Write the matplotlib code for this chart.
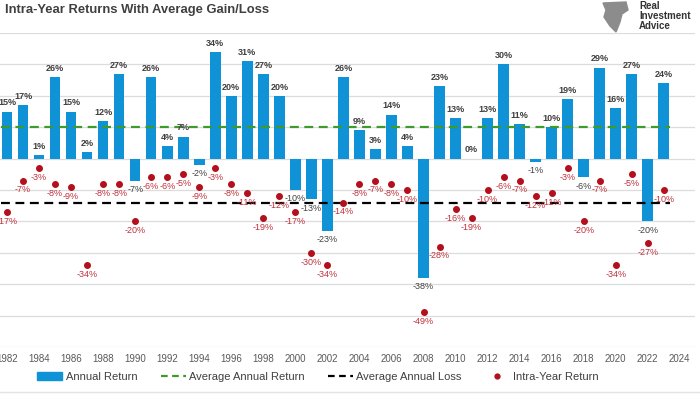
import numpy as np
import matplotlib.pyplot as plt
from matplotlib.lines import Line2D
from matplotlib.patches import Patch, Polygon

plt.rcParams['font.family'] = ['Liberation Sans', 'DejaVu Sans']

# Datos
years = np.arange(1982, 2024)
annual = [15, 17, 1, 26, 15, 2, 12, 27, -7, 26, 4, 7, -2, 34, 20, 31, 27, 20,
          -10, -13, -23, 26, 9, 3, 14, 4, -38, 23, 13, 0, 13, 30, 11, -1, 10,
          19, -6, 29, 16, 27, -20, 24]
intra = [-17, -7, -3, -8, -9, -34, -8, -8, -20, -6, -6, -5, -9, -3, -8, -11,
         -19, -12, -17, -30, -34, -14, -8, -7, -8, -10, -49, -28, -16, -19,
         -10, -6, -7, -12, -11, -3, -20, -7, -34, -5, -27, -10]
avg_gain = 10
avg_loss = -14
tick_years = np.arange(1982, 2025, 2)

blue = '#0f93d6'
red = '#b3101e'
red_txt = '#c0303a'
green = '#3f9a2c'

fig = plt.figure(figsize=(7, 3.94), dpi=100)
ax = fig.add_axes([0, 47 / 394, 695 / 700, 314 / 394])

ax.bar(years, annual, width=0.66, color=blue, zorder=2)
ax.plot([years[0] - 0.4, years[-1] + 0.4], [avg_gain, avg_gain], color=green,
        lw=1.6, dashes=(4, 2.5), zorder=3)
ax.plot([years[0] - 0.4, years[-1] + 0.4], [avg_loss, avg_loss], color='black',
        lw=1.6, dashes=(4, 2.5), zorder=3)
ax.scatter(years, intra, s=16, color=red, zorder=4)

for x, v in zip(years, annual):
    if v >= 0:
        ax.annotate(f'{v}%', (x, v), xytext=(0, 3), textcoords='offset points',
                    ha='center', va='bottom', fontsize=6.5, fontweight='bold',
                    color='#404040', zorder=5)
    else:
        ax.annotate(f'{v}%', (x, v), xytext=(0, -3), textcoords='offset points',
                    ha='center', va='top', fontsize=6.5, color='#404040', zorder=5)

for x, v in zip(years, intra):
    ax.annotate(f'{v}%', (x, v), xytext=(0, -3.5), textcoords='offset points',
                ha='center', va='top', fontsize=6.5, color=red_txt, zorder=5)

ax.set_xlim(1981.56, 2024.95)
ax.set_ylim(-60, 40)
ax.set_yticks(np.arange(-60, 41, 10))
ax.set_yticklabels([])
ax.set_xticks(tick_years)
ax.set_xticklabels([str(y) for y in tick_years], fontsize=7, color='#595959')
ax.tick_params(length=0, pad=5)
ax.grid(axis='y', color='#dcdcdc', lw=0.9, zorder=0)
for s in ax.spines.values():
    s.set_visible(False)

# Título y logo
fig.text(5 / 700, 1 - 10 / 394, 'Intra-Year Returns With Average Gain/Loss',
         fontsize=9.4, fontweight='bold', color='#404040', va='center')
fig.text(639 / 700, 1 - 16 / 394, 'Real\nInvestment\nAdvice', fontsize=7,
         fontweight='bold', color='#333333', va='center', linespacing=0.95)
pts = [[603, 3], [626, 2], [628, 10], [622, 14], [620, 22], [616, 32],
       [610, 26], [604, 17], [606, 10]]
eagle = Polygon([[px / 700, 1 - py / 394] for px, py in pts], closed=True,
                color='#8c8c8c', transform=fig.transFigure)
fig.add_artist(eagle)
fig.add_artist(Line2D([0, 1], [1 - 392 / 394] * 2, color='#e3e3e3', lw=1))

handles = [Patch(color=blue),
           Line2D([], [], color=green, lw=1.6, dashes=(3, 2)),
           Line2D([], [], color='black', lw=1.6, dashes=(3, 2)),
           Line2D([], [], color=red, marker='o', ls='', markersize=3.5)]
labels = ['Annual Return', 'Average Annual Return', 'Average Annual Loss',
          'Intra-Year Return']
fig.legend(handles, labels, loc='center', bbox_to_anchor=(318 / 700, 1 - 377 / 394),
           ncol=4, frameon=False, fontsize=8, handlelength=2.25, columnspacing=2.1,
           handletextpad=0.3, labelcolor='#404040')

fig.savefig('out.png', dpi=100)
